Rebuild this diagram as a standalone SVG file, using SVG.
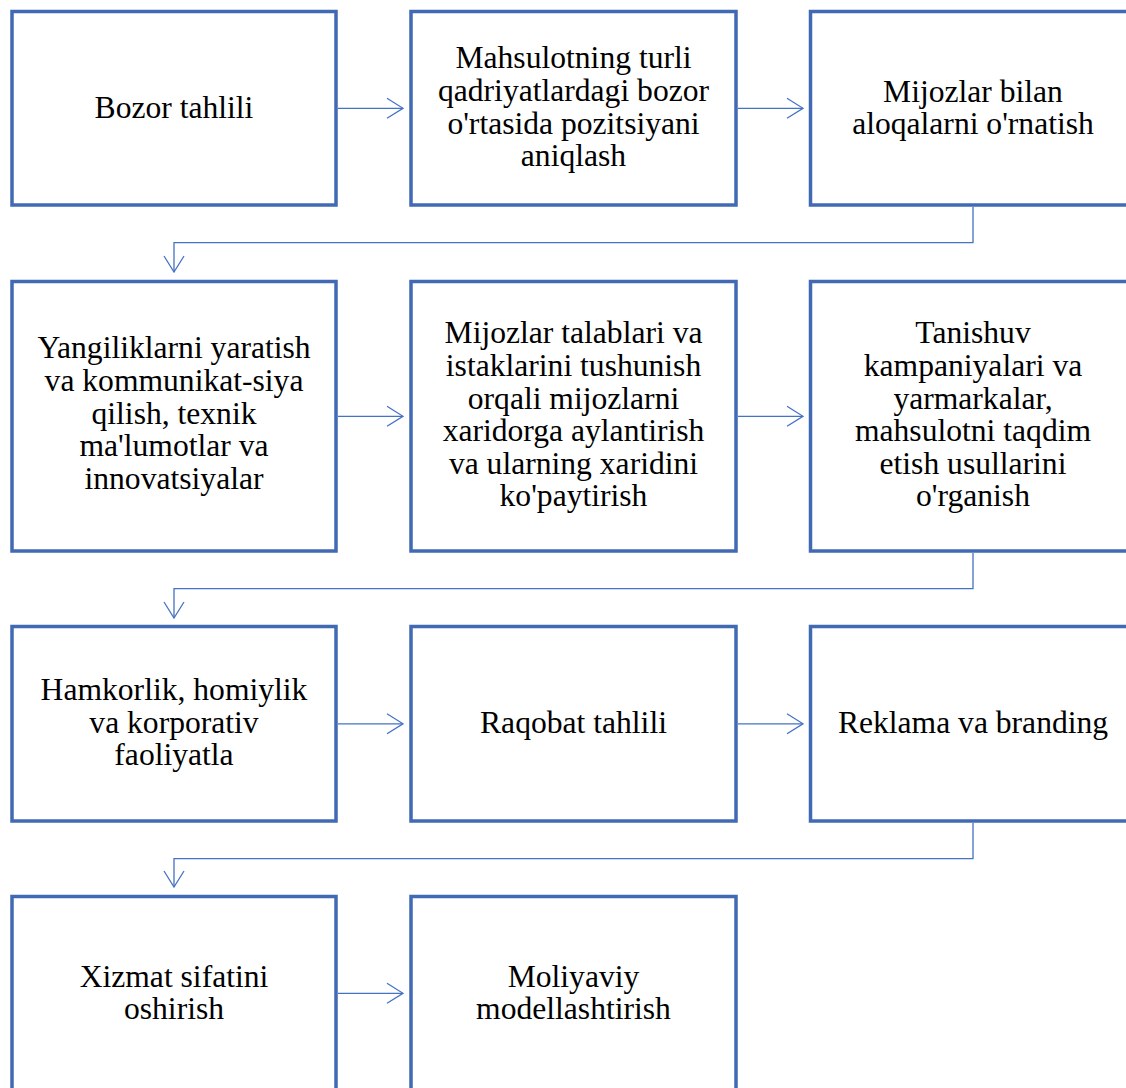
<svg xmlns="http://www.w3.org/2000/svg" width="1126" height="1088" viewBox="0 0 1126 1088">
<defs>
<style>
.box{fill:#fff;stroke:#4169B4;stroke-width:3.5}
.lbl{font-family:"Liberation Serif","Times New Roman",serif;font-size:31.6px;fill:#000;text-anchor:middle}
.con{fill:none;stroke:#4472C4;stroke-width:1.3}
</style>
<marker id="ah" viewBox="0 0 18 22" refX="17" refY="11" markerWidth="18" markerHeight="22" markerUnits="userSpaceOnUse" orient="auto">
<path d="M1,1 L17,11 L1,21" fill="none" stroke="#4472C4" stroke-width="1.3"/>
</marker>
</defs>
<rect width="1126" height="1088" fill="#fff"/>
<g id="connectors">
<path class="con" d="M338,108.3 H403" marker-end="url(#ah)"/>
<path class="con" d="M738,108.3 H803" marker-end="url(#ah)"/>
<path class="con" d="M973,207 V242.7 H174 V272" marker-end="url(#ah)"/>
<path class="con" d="M338,416.3 H403" marker-end="url(#ah)"/>
<path class="con" d="M738,416.3 H803" marker-end="url(#ah)"/>
<path class="con" d="M973,553 V588.7 H174 V618" marker-end="url(#ah)"/>
<path class="con" d="M338,723.8 H403" marker-end="url(#ah)"/>
<path class="con" d="M738,723.8 H803" marker-end="url(#ah)"/>
<path class="con" d="M973,823 V858.7 H174 V887" marker-end="url(#ah)"/>
<path class="con" d="M338,993.3 H403" marker-end="url(#ah)"/>
</g>
<g id="n1"><rect class="box" x="12" y="11.5" width="324" height="193.5"/>
<text class="lbl" x="174" y="118.3">Bozor tahlili</text></g>
<g id="n2"><rect class="box" x="411" y="11.5" width="325" height="193.5"/>
<text class="lbl" x="573.5" y="68.3">Mahsulotning turli<tspan x="573.5" dy="32.6">qadriyatlardagi bozor</tspan><tspan x="573.5" dy="32.6">o'rtasida pozitsiyani</tspan><tspan x="573.5" dy="32.6">aniqlash</tspan></text></g>
<g id="n3"><rect class="box" x="810.5" y="11.5" width="325" height="193.5"/>
<text class="lbl" x="973" y="101.7">Mijozlar bilan<tspan x="973" dy="32.6">aloqalarni o'rnatish</tspan></text></g>
<g id="n4"><rect class="box" x="12" y="281.5" width="324" height="269.5"/>
<text class="lbl" x="174" y="358.3">Yangiliklarni yaratish<tspan x="174" dy="32.6">va kommunikat-siya</tspan><tspan x="174" dy="32.6">qilish, texnik</tspan><tspan x="174" dy="32.6">ma'lumotlar va</tspan><tspan x="174" dy="32.6">innovatsiyalar</tspan></text></g>
<g id="n5"><rect class="box" x="411" y="281.5" width="325" height="269.5"/>
<text class="lbl" x="573.5" y="343.3">Mijozlar talablari va<tspan x="573.5" dy="32.6">istaklarini tushunish</tspan><tspan x="573.5" dy="32.6">orqali mijozlarni</tspan><tspan x="573.5" dy="32.6">xaridorga aylantirish</tspan><tspan x="573.5" dy="32.6">va ularning xaridini</tspan><tspan x="573.5" dy="32.6">ko'paytirish</tspan></text></g>
<g id="n6"><rect class="box" x="810.5" y="281.5" width="325" height="269.5"/>
<text class="lbl" x="973" y="343.3">Tanishuv<tspan x="973" dy="32.6">kampaniyalari va</tspan><tspan x="973" dy="32.6">yarmarkalar,</tspan><tspan x="973" dy="32.6">mahsulotni taqdim</tspan><tspan x="973" dy="32.6">etish usullarini</tspan><tspan x="973" dy="32.6">o'rganish</tspan></text></g>
<g id="n7"><rect class="box" x="12" y="626.5" width="324" height="194.5"/>
<text class="lbl" x="174" y="700">Hamkorlik, homiylik<tspan x="174" dy="32.6">va korporativ</tspan><tspan x="174" dy="32.6">faoliyatla</tspan></text></g>
<g id="n8"><rect class="box" x="411" y="626.5" width="325" height="194.5"/>
<text class="lbl" x="573.5" y="733">Raqobat tahlili</text></g>
<g id="n9"><rect class="box" x="810.5" y="626.5" width="325" height="194.5"/>
<text class="lbl" x="973" y="733">Reklama va branding</text></g>
<g id="n10"><rect class="box" x="12" y="896.5" width="324" height="193.5"/>
<text class="lbl" x="174" y="986.5">Xizmat sifatini<tspan x="174" dy="32.6">oshirish</tspan></text></g>
<g id="n11"><rect class="box" x="411" y="896.5" width="325" height="193.5"/>
<text class="lbl" x="573.5" y="986.5">Moliyaviy<tspan x="573.5" dy="32.6">modellashtirish</tspan></text></g>
</svg>
